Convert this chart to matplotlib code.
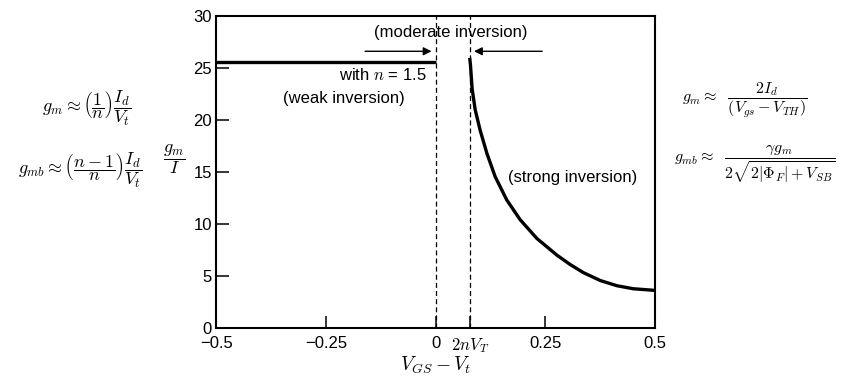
import matplotlib
matplotlib.use("Agg")
from matplotlib import pyplot as plt

plt.rcParams['font.family'] = ['Liberation Sans', 'DejaVu Sans']
plt.rcParams['mathtext.fontset'] = 'cm'

# weak inversion region (flat)
weak_x = [-0.5, 0.0]
weak_y = [25.6, 25.6]

# strong inversion region
strong_x = [0.078, 0.0793, 0.0831, 0.090, 0.1014, 0.1166, 0.1355, 0.162, 0.1925,
            0.2305, 0.276, 0.306, 0.337, 0.375, 0.413, 0.45, 0.5]
strong_y = [25.8, 25.3, 23.0, 21.0, 19.0, 16.8, 14.55, 12.3, 10.4,
            8.6, 7.0, 6.1, 5.3, 4.55, 4.05, 3.76, 3.6]

vlines_x = [0.0, 0.078]

xticks = [-0.5, -0.25, 0.0, 0.078, 0.25, 0.5]
xtick_labels = ['\u22120.5', '\u22120.25', '0', r'$2nV_T$', '0.25', '0.5']
yticks = [0, 5, 10, 15, 20, 25, 30]

fig = plt.figure(figsize=(8.41, 3.79), dpi=100)
ax = fig.add_axes([0.257, 0.135, 0.522, 0.823])

ax.plot(weak_x, weak_y, color='black', lw=2.4, solid_capstyle='butt')
ax.plot(strong_x, strong_y, color='black', lw=2.4, solid_joinstyle='round')
for vx in vlines_x:
    ax.axvline(vx, color='black', lw=0.9, ls=(0, (4, 2.5)))

ax.set_xlim(-0.5, 0.5)
ax.set_ylim(0, 30)
ax.set_xticks(xticks)
ax.set_xticklabels(xtick_labels)
ax.set_yticks(yticks)
ax.tick_params(direction='in', length=9, width=1.1, labelsize=12, top=False, right=False)
ax.tick_params(axis='x', pad=6)
ax.tick_params(axis='y', pad=3)
for s in ax.spines.values():
    s.set_linewidth(1.5)

# arrows for moderate inversion
ax.annotate('', xy=(-0.003, 26.6), xytext=(-0.167, 26.6),
            arrowprops=dict(arrowstyle='-|>', color='black', lw=1, mutation_scale=12))
ax.annotate('', xy=(0.081, 26.6), xytext=(0.249, 26.6),
            arrowprops=dict(arrowstyle='-|>', color='black', lw=1, mutation_scale=12))

ax.text(0.035, 28.4, '(moderate inversion)', ha='center', va='center', fontsize=12)
ax.text(-0.02, 24.3, r'with $n$ = 1.5', ha='right', va='center', fontsize=12)
ax.text(-0.208, 22.1, '(weak inversion)', ha='center', va='center', fontsize=12)
ax.text(0.311, 14.5, '(strong inversion)', ha='center', va='center', fontsize=12)

ax.set_xlabel(r'$V_{GS}-V_t$', fontsize=14, labelpad=0)
fig.text(0.207, 0.58, r'$\dfrac{g_m}{I}$', ha='center', va='center', fontsize=13)

# equations
fig.text(0.103, 0.715, r'$g_m \approx \left(\dfrac{1}{n}\right)\dfrac{I_d}{V_t}$',
         ha='center', va='center', fontsize=13)
fig.text(0.095, 0.55, r'$g_{mb} \approx \left(\dfrac{n-1}{n}\right)\dfrac{I_d}{V_t}$',
         ha='center', va='center', fontsize=13)
fig.text(0.886, 0.735, r'$g_m \approx\ \ \dfrac{2I_d}{(V_{gs}-V_{TH})}$',
         ha='center', va='center', fontsize=11.5)
fig.text(0.897, 0.565, r'$g_{mb} \approx\ \ \dfrac{\gamma g_m}{2\sqrt{2|\Phi_F|+V_{SB}}}$',
         ha='center', va='center', fontsize=11.5)

fig.savefig('out.png', dpi=100)
